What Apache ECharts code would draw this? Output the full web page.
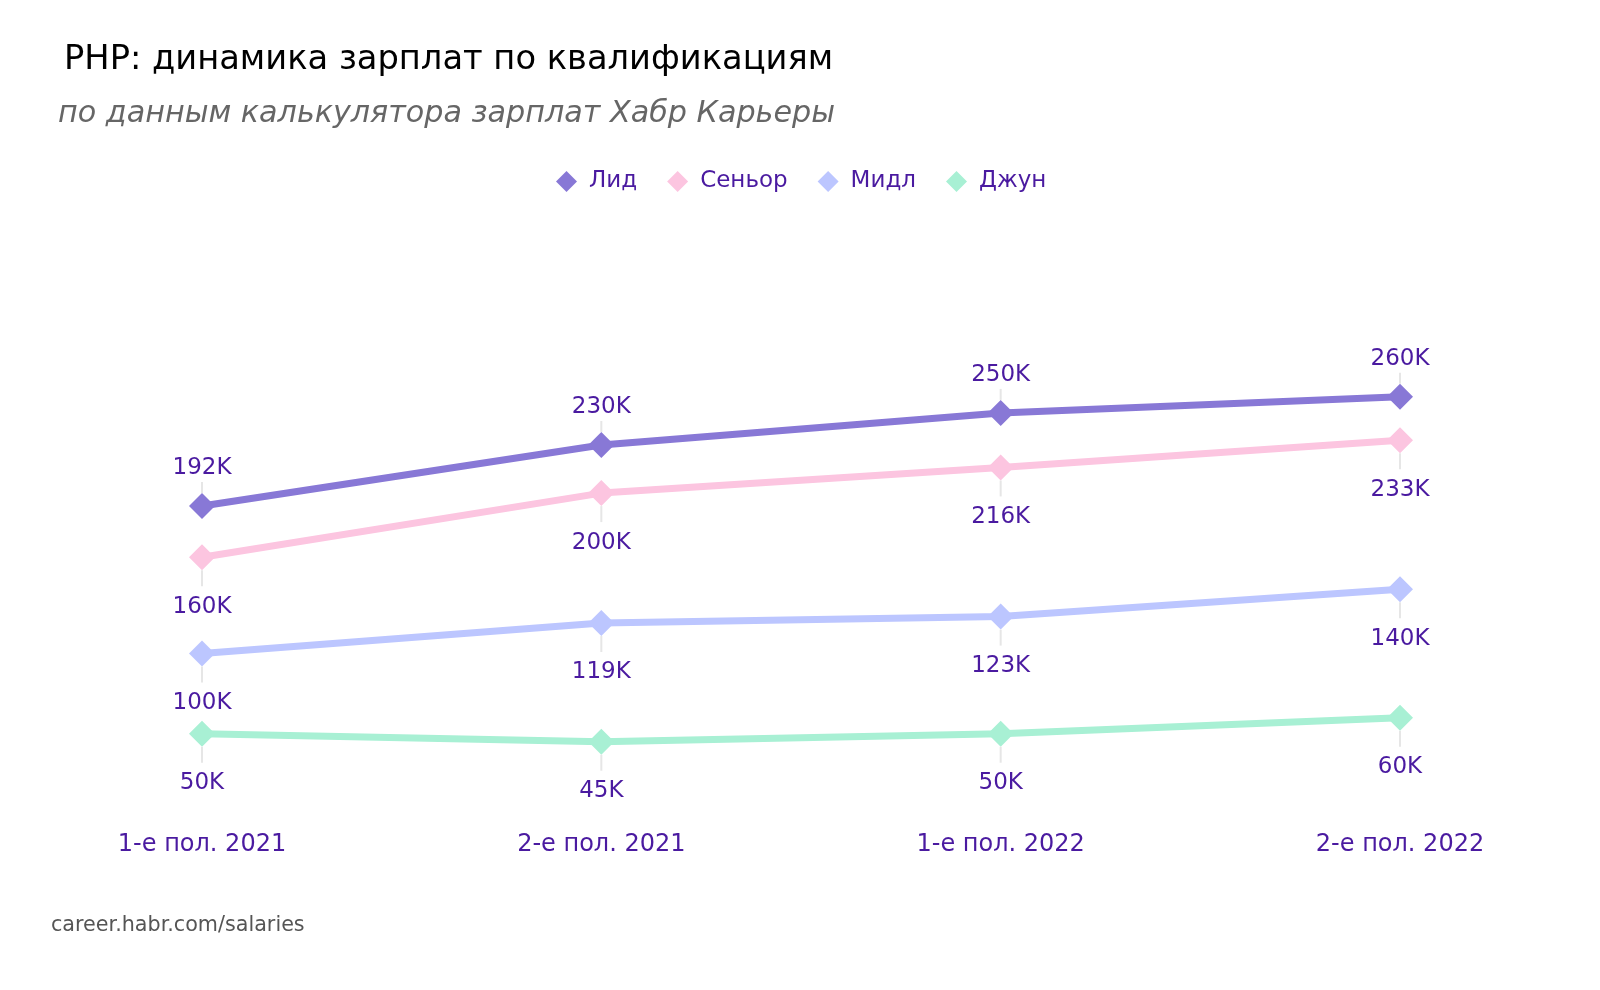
<!DOCTYPE html>
<html><head><meta charset="utf-8">
<script src="https://cdn.jsdelivr.net/npm/echarts@6/dist/echarts.min.js"></script>
<style>html,body{margin:0;padding:0;background:#fff}#c{width:1600px;height:990px}</style>
</head><body><div id="c"></div>
<script>
const categories = ['1-е пол. 2021', '2-е пол. 2021', '1-е пол. 2022', '2-е пол. 2022'];
const lead = [192, 230, 250, 260];
const senior = [160, 200, 216, 233];
const middle = [100, 119, 123, 140];
const junior = [50, 45, 50, 60];
const seriesNames = ['Лид', 'Сеньор', 'Мидл', 'Джун'];

const FONT = 'DejaVu Sans';
const TXT = '#4a1aa0';
const GUIDE = '#e6e6e6';
const colors = ['#8878d6', '#fcc5e0', '#bcc6ff', '#a8f0d4'];
const chart = echarts.init(document.getElementById('c'));

function mk(name, data, color, above) {
  return {
    name, type: 'line', data, color,
    symbol: 'diamond', symbolSize: 26,
    lineStyle: {width: 7, color},
    itemStyle: {color},
    z: above ? 5 : 4,
    label: {
      show: true, position: above ? 'top' : 'bottom',
      distance: 0,
      formatter: p => above ? '{v|' + p.value + 'K}\n{l|}' : '{l|}\n{g|}\n{v|' + p.value + 'K}',
      rich: {
        v: {color: TXT, fontFamily: FONT, fontSize: 23, lineHeight: 27, align: 'center'},
        l: {width: 2, height: above ? 11 : 16, lineHeight: above ? 11 : 16, backgroundColor: GUIDE, align: 'center'},
        g: {height: 7, lineHeight: 7, align: 'center'}
      }
    },
    emphasis: {disabled: true}
  };
}

chart.setOption({
  backgroundColor: '#fff',
  animation: false,
  title: [
    {text: 'PHP: динамика зарплат по квалификациям', left: 59, top: 38,
     textStyle: {fontFamily: FONT, fontSize: 33.7, fontWeight: 'normal', color: '#000'}},
    {text: 'по данным калькулятора зарплат Хабр Карьеры', left: 53, top: 94,
     textStyle: {fontFamily: FONT, fontSize: 30.2, fontStyle: 'italic', fontWeight: 'normal', color: '#666'}},
    {text: 'career.habr.com/salaries', left: 46, top: 910,
     textStyle: {fontFamily: FONT, fontSize: 20.7, fontWeight: 'normal', color: '#555'}}
  ],
  legend: {
    data: seriesNames, left: 551, top: 165, icon: 'diamond', itemWidth: 21, itemHeight: 21, itemGap: 30,
    textStyle: {fontFamily: FONT, fontSize: 23, color: TXT, padding: [0, 0, 0, 7]}
  },
  grid: {left: 202, right: 200, top: 332.7, bottom: 176.1},
  xAxis: {
    type: 'category', data: categories, boundaryGap: false,
    axisLine: {show: false}, axisTick: {show: false}, splitLine: {show: false},
    axisLabel: {fontFamily: FONT, fontSize: 24, color: TXT, margin: 19}
  },
  yAxis: {type: 'value', min: 0, max: 300, show: false, splitLine: {show: false}},
  series: [
    mk('Лид', lead, colors[0], true),
    mk('Сеньор', senior, colors[1], false),
    mk('Мидл', middle, colors[2], false),
    mk('Джун', junior, colors[3], false)
  ]
});
</script></body></html>
